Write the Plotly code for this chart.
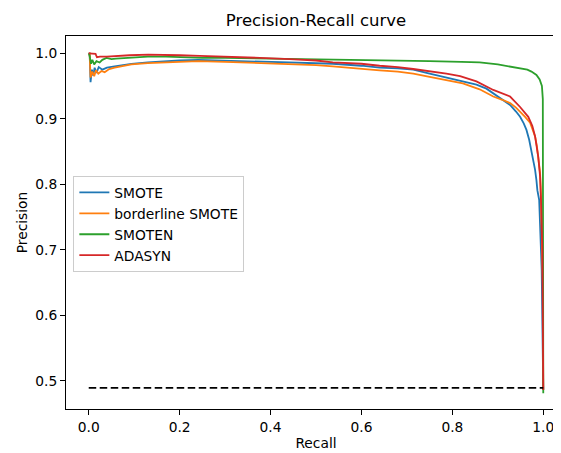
import plotly.graph_objects as go

# ---- data ----
smote_recall = [0, 0.002, 0.004, 0.007, 0.010, 0.013, 0.017, 0.022, 0.03, 0.04, 0.057, 0.075, 0.094,
                0.13, 0.167, 0.2, 0.241, 0.3, 0.35, 0.4, 0.442, 0.5, 0.537, 0.6, 0.64, 0.68, 0.714,
                0.75, 0.787, 0.823, 0.853, 0.875, 0.89, 0.91, 0.927, 0.94, 0.949, 0.957, 0.963,
                0.969, 0.974, 0.978, 0.982, 0.985, 0.987, 0.991, 0.9965, 1.0]
smote_precision = [1.0, 1.0, 0.956, 0.975, 0.966, 0.978, 0.970, 0.979, 0.975, 0.978, 0.980, 0.982, 0.984,
                   0.986, 0.988, 0.989, 0.990, 0.989, 0.988, 0.987, 0.986, 0.985, 0.984, 0.981, 0.978, 0.977, 0.975,
                   0.969, 0.963, 0.957, 0.952, 0.946, 0.939, 0.930, 0.921, 0.911, 0.903, 0.893, 0.883,
                   0.868, 0.852, 0.838, 0.822, 0.806, 0.791, 0.776, 0.669, 0.486]

bsmote_recall = [0, 0.002, 0.004, 0.008, 0.012, 0.016, 0.021, 0.028, 0.035, 0.045, 0.057, 0.075, 0.094,
                 0.13, 0.167, 0.2, 0.241, 0.3, 0.35, 0.4, 0.442, 0.5, 0.537, 0.6, 0.64, 0.68, 0.714,
                 0.75, 0.787, 0.823, 0.86, 0.89, 0.91, 0.927, 0.94, 0.949, 0.96, 0.971, 0.977, 0.982,
                 0.986, 0.989, 0.993, 0.995, 0.997, 0.999, 1.0]
bsmote_precision = [1.0, 1.0, 0.963, 0.972, 0.965, 0.974, 0.969, 0.973, 0.971, 0.976, 0.978, 0.980, 0.983,
                    0.985, 0.986, 0.987, 0.988, 0.987, 0.986, 0.985, 0.984, 0.982, 0.980, 0.977, 0.974, 0.972, 0.969,
                    0.964, 0.959, 0.954, 0.945, 0.934, 0.929, 0.924, 0.917, 0.911, 0.903, 0.894, 0.884, 0.873,
                    0.858, 0.842, 0.817, 0.781, 0.72, 0.65, 0.486]

smoten_recall = [0, 0.002, 0.005, 0.008, 0.012, 0.017, 0.024, 0.03, 0.039, 0.05, 0.06, 0.08, 0.1, 0.13,
                 0.17, 0.2, 0.25, 0.3, 0.4, 0.5, 0.6, 0.64, 0.7, 0.75, 0.82, 0.86, 0.9, 0.927, 0.95,
                 0.965, 0.974, 0.985, 0.992, 0.997, 0.999, 1.0]
smoten_precision = [1.0, 0.996, 0.984, 0.990, 0.983, 0.988, 0.986, 0.990, 0.993, 0.991, 0.992, 0.993, 0.994, 0.995,
                    0.995, 0.994, 0.993, 0.993, 0.992, 0.991, 0.990, 0.990, 0.989, 0.988, 0.987, 0.986, 0.983, 0.980, 0.977,
                    0.975, 0.972, 0.967, 0.960, 0.950, 0.930, 0.481]

adasyn_recall = [0, 0.01, 0.015, 0.018, 0.025, 0.04, 0.06, 0.09, 0.131, 0.17, 0.2, 0.244, 0.3, 0.377,
                 0.442, 0.5, 0.537, 0.6, 0.64, 0.68, 0.714, 0.75, 0.787, 0.817, 0.853, 0.89, 0.927,
                 0.949, 0.967, 0.976, 0.982, 0.989, 0.993, 0.995, 0.998, 1.0]
adasyn_precision = [1.0, 1.0, 0.999, 0.994, 0.995, 0.995, 0.996, 0.997, 0.998, 0.998, 0.997, 0.996, 0.995, 0.993,
                    0.991, 0.989, 0.986, 0.984, 0.981, 0.979, 0.976, 0.973, 0.969, 0.965, 0.957, 0.944, 0.934,
                    0.918, 0.903, 0.889, 0.873, 0.842, 0.812, 0.776, 0.70, 0.486]

baseline_recall = [0, 1]
baseline_precision = [0.489, 0.489]

series_names = ["SMOTE", "borderline SMOTE", "SMOTEN", "ADASYN"]
series_colors = ["#1f77b4", "#ff7f0e", "#2ca02c", "#d62728"]
x_ticks = [0.0, 0.2, 0.4, 0.6, 0.8, 1.0]
y_ticks = [0.5, 0.6, 0.7, 0.8, 0.9, 1.0]

FONT = "DejaVu Sans"
OFF = 8  # page body margin offset

fig = go.Figure()
series = [(smote_recall, smote_precision), (bsmote_recall, bsmote_precision),
          (smoten_recall, smoten_precision), (adasyn_recall, adasyn_precision)]
for (r, p), name, col in zip(series, series_names, series_colors):
    fig.add_trace(go.Scatter(x=r, y=p, mode="lines", name=name,
                             line=dict(color=col, width=1.8)))

fig.add_trace(go.Scatter(x=baseline_recall, y=baseline_precision, mode="lines",
                         showlegend=False,
                         line=dict(color="black", width=1.8, dash="7.5px,3.5px")))

fig.update_layout(
    width=561, height=453,
    margin=dict(l=66 - OFF, r=3, t=36 - OFF, b=453 - (409 - OFF), autoexpand=False),
    paper_bgcolor="white", plot_bgcolor="white",
    font=dict(family=FONT, size=13.8, color="black"),
    title=dict(text="Precision-Recall curve", x=(316 - OFF) / 561, xref="container", xanchor="center",
               y=1 - (20 - OFF) / 453, yref="container", yanchor="middle",
               font=dict(family=FONT, size=16.5, color="black")),
    legend=dict(x=0.0147, y=0.625, xanchor="left", yanchor="top",
                bgcolor="white", bordercolor="#cccccc", borderwidth=1,
                font=dict(family=FONT, size=13.8, color="black")),
    showlegend=True,
)

fig.update_xaxes(range=[-0.05, 1.05], tickvals=x_ticks, tickformat=".1f",
                 automargin=False,
                 showgrid=False, zeroline=False,
                 showline=True, linecolor="black", linewidth=1.1, mirror=True,
                 ticks="outside", ticklen=5, tickwidth=1.1, tickcolor="black",
                 title=dict(text="Recall", standoff=4, font=dict(family=FONT, size=13.8)))
fig.update_yaxes(range=[0.4568, 1.0264], tickvals=y_ticks, tickformat=".1f",
                 automargin=False,
                 showgrid=False, zeroline=False,
                 showline=True, linecolor="black", linewidth=1.1, mirror=False,
                 ticks="outside", ticklen=5, tickwidth=1.1, tickcolor="black",
                 title=dict(text="Precision", standoff=4, font=dict(family=FONT, size=13.8)))

fig.write_html("out.html")
